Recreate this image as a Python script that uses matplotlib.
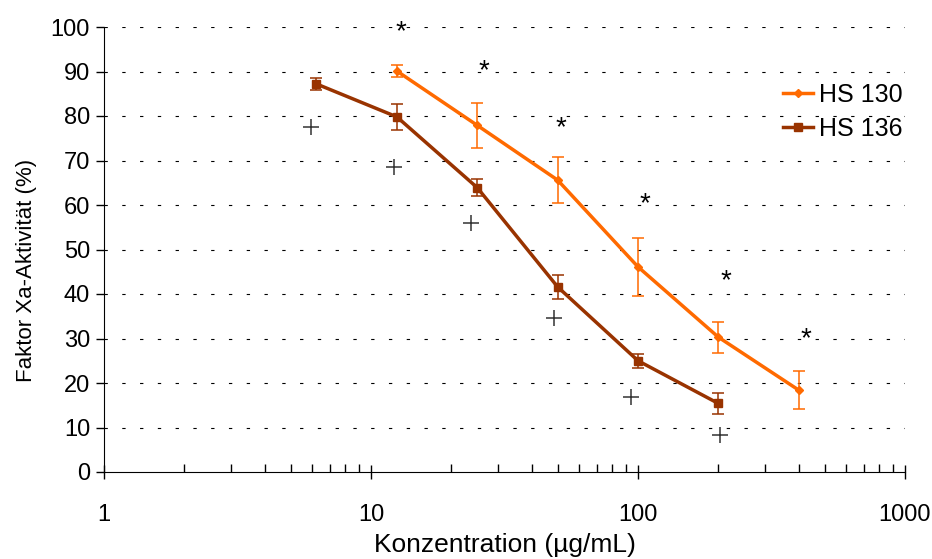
import matplotlib
matplotlib.use("Agg")
import matplotlib.pyplot as plt
from matplotlib.lines import Line2D
from matplotlib.ticker import LogLocator, NullFormatter, FixedLocator

plt.rcParams['font.family'] = ['Liberation Sans', 'DejaVu Sans']

conc_130 = [12.5, 25, 50, 100, 200, 400]
act_130 = [90.1, 77.9, 65.6, 46.1, 30.3, 18.4]
err_130 = [1.4, 5.0, 5.1, 6.5, 3.5, 4.3]

conc_136 = [6.25, 12.5, 25, 50, 100, 200]
act_136 = [87.2, 79.8, 63.9, 41.6, 25.0, 15.4]
err_136 = [1.3, 3.0, 1.9, 2.7, 1.6, 2.4]

# asterisks (significance) and plus markers
star_x = [12.9, 26.5, 51.5, 106, 213, 425]
star_y = [98.8, 90.1, 77.3, 60.1, 42.8, 29.8]
plus_x = [5.95, 12.2, 23.7, 48.5, 94, 203]
plus_y = [77.5, 68.6, 56.0, 34.6, 16.9, 8.4]

orange = '#FF6A00'
brown = '#993300'

fig = plt.figure(figsize=(9.32, 5.59), dpi=100)
ax = fig.add_axes([104 / 932, 87 / 559, 801 / 932, 445 / 559])

for y in range(10, 101, 10):
    ax.axhline(y, color='black', lw=0.8, dashes=(3, 13), zorder=0)

ax.errorbar(conc_130, act_130, yerr=err_130, color=orange, lw=2.5,
            marker='D', ms=4, ecolor=orange, elinewidth=1.1,
            capsize=4, capthick=1.1, zorder=3)
ax.errorbar(conc_136, act_136, yerr=err_136, color=brown, lw=2.5,
            marker='s', ms=6, ecolor=brown, elinewidth=1.1,
            capsize=4, capthick=1.1, zorder=3)

ax.plot(plus_x, plus_y, ls='none', marker='+', ms=11, mew=1.1, color='#333333')
for x, y in zip(star_x, star_y):
    ax.text(x, y, '*', ha='center', va='center', fontsize=20, color='black')

ax.set_xscale('log')
ax.set_xlim(1, 1000)
ax.set_ylim(0, 100)
ax.yaxis.set_major_locator(FixedLocator(range(0, 101, 10)))
ax.xaxis.set_major_locator(FixedLocator([1, 10, 100, 1000]))
ax.set_xticklabels(['1', '10', '100', '1000'])
ax.xaxis.set_minor_locator(LogLocator(base=10, subs=range(2, 10)))
ax.xaxis.set_minor_formatter(NullFormatter())

for s in ['top', 'right']:
    ax.spines[s].set_visible(False)
ax.tick_params(axis='both', labelsize=17, color='black', width=1, length=6, direction='out')
ax.tick_params(axis='y', pad=4)
ax.tick_params(axis='x', which='major', direction='inout', length=10, pad=18)
ax.tick_params(axis='x', which='minor', direction='in', length=6, width=1)

ax.set_xlabel('Konzentration (µg/mL)', fontsize=19, labelpad=5)
ax.set_ylabel('Faktor Xa-Aktivität (%)', fontsize=16)
ax.yaxis.set_label_coords(-0.084, 0.452)

handles = [Line2D([], [], color=orange, lw=2.5, marker='D', ms=4),
           Line2D([], [], color=brown, lw=2.5, marker='s', ms=6)]
ax.legend(handles, ['HS 130', 'HS 136'], loc='center left',
          bbox_to_anchor=(0.819, 0.81), frameon=False, fontsize=18,
          handlelength=1.2, handletextpad=0.25, labelspacing=0.4)

fig.savefig('out.png', dpi=100)
